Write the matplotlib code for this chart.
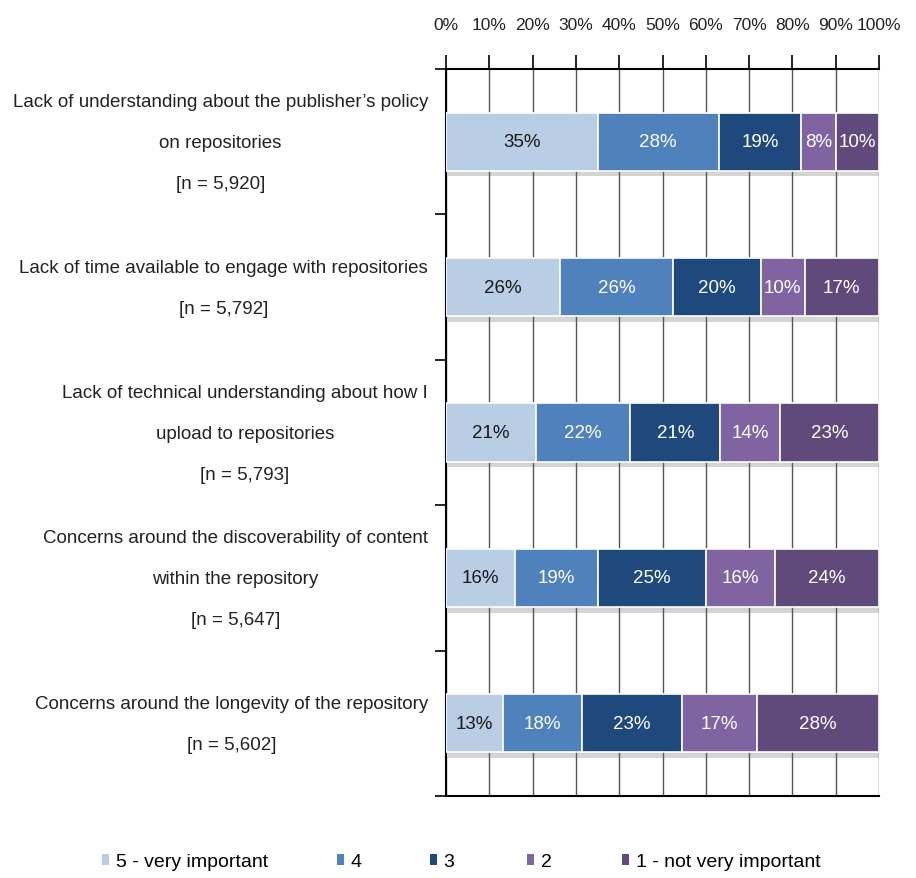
import matplotlib
matplotlib.use("Agg")
import matplotlib.pyplot as plt
import matplotlib.patheffects as pe
from matplotlib.patches import Patch
from matplotlib.transforms import ScaledTranslation
import numpy as np

plt.rcParams['font.family'] = ['Liberation Sans', 'DejaVu Sans']

categories = [
    "Lack of understanding about the publisher\u2019s policy\non repositories\n[n = 5,920]",
    "Lack of time available to engage with repositories\n[n = 5,792]",
    "Lack of technical understanding about how I\nupload to repositories\n[n = 5,793]",
    "Concerns around the discoverability of content\nwithin the repository\n[n = 5,647]",
    "Concerns around the longevity of the repository\n[n = 5,602]",
]
series_names = ["5 - very important", "4", "3", "2", "1 - not very important"]
v5 = [35, 26, 21, 16, 13]
v4 = [28, 26, 22, 19, 18]
v3 = [19, 20, 21, 25, 23]
v2 = [8, 10, 14, 16, 17]
v1 = [10, 17, 23, 24, 28]
xticks = [0, 10, 20, 30, 40, 50, 60, 70, 80, 90, 100]

colors = ["#B9CDE5", "#4F81BD", "#1F497D", "#8064A2", "#604A7B"]
text_colors = ["#1a1a1a", "white", "white", "white", "white"]

vals = np.array([v5, v4, v3, v2, v1], dtype=float)
totals = vals.sum(axis=0)
widths = vals / totals * 100

W, H = 916, 879
fig = plt.figure(figsize=(W / 100, H / 100), dpi=100)
ax = fig.add_axes([446 / W, 1 - 797 / H, (879 - 446) / W, (797 - 70) / H])

y = np.arange(len(categories))
left = np.zeros(len(categories))
shadow = [pe.SimplePatchShadow(offset=(1.5, -4), shadow_rgbFace='#666666', alpha=0.28), pe.Normal()]
for i in range(5):
    bars = ax.barh(y, widths[i], left=left, height=0.4, color=colors[i],
                   edgecolor='white', linewidth=1.2, label=series_names[i], zorder=3)
    for b in bars:
        b.set_path_effects(shadow)
    for j in range(len(categories)):
        ax.text(left[j] + widths[i][j] / 2, y[j], f"{int(vals[i][j])}%",
                ha='center', va='center', fontsize=13.5, color=text_colors[i], zorder=4)
    left += widths[i]

ax.set_xlim(0, 100)
ax.set_ylim(len(categories) - 0.5, -0.5)
ax.set_xticks(xticks)
ax.set_xticklabels([f"{t}%" for t in xticks], fontsize=12.5, color='#222222')
ax.xaxis.tick_top()
ax.tick_params(axis='x', direction='out', length=10, width=1.2, pad=17, color='black')
ax.grid(axis='x', color='#555555', linewidth=1.0, zorder=0)
ax.set_axisbelow(True)

# category labels (right-aligned block, lines centred), centred on bars
ax.set_yticks(y)
ax.set_yticklabels([])
ax.tick_params(axis='y', length=0)
label_tr = ax.get_yaxis_transform() + ScaledTranslation(-18 / 100, -1 / 100, fig.dpi_scale_trans)
for j, cat in enumerate(categories):
    ax.text(0, y[j], cat, transform=label_tr, ha='right', va='center',
            multialignment='center', fontsize=13.5, color='#222222', linespacing=2.85)
ax.set_yticks(np.arange(-0.5, len(categories), 1), minor=True)
ax.tick_params(axis='y', which='minor', length=8, width=1.2, color='black')

for s in ['top', 'left', 'bottom', 'right']:
    ax.spines[s].set_linewidth(1.5)
    ax.spines[s].set_color('black')
ax.spines['right'].set_visible(False)

legend_x = [102, 337, 430, 527, 622]
for c, name, lx in zip(colors, series_names, legend_x):
    fig.legend([Patch(facecolor=c, edgecolor='none')], [name], loc='center left',
               bbox_to_anchor=(lx / W, 1 - 863 / H),
               frameon=False, fontsize=14, handlelength=0.35, handleheight=0.55,
               handletextpad=0.35, borderpad=0, borderaxespad=0)

fig.savefig("out.png", dpi=100)
